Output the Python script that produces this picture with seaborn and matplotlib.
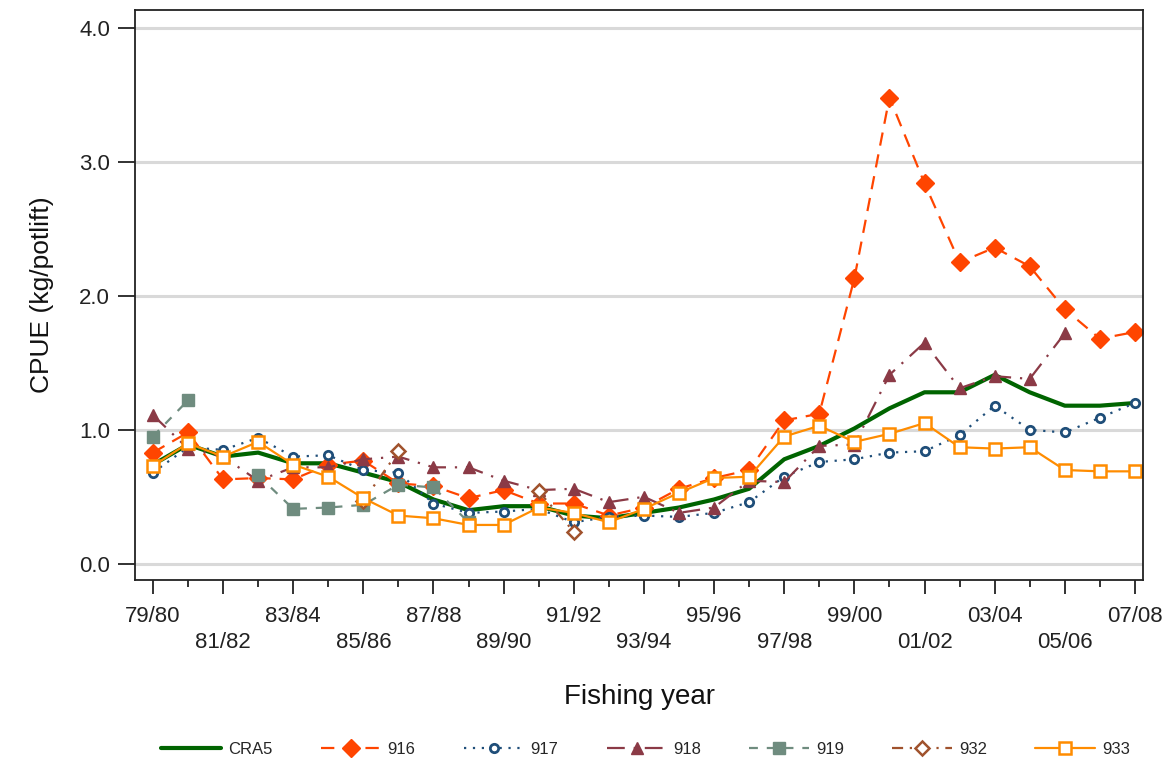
import numpy as np
import pandas as pd
import matplotlib
matplotlib.use("Agg")
import matplotlib.pyplot as plt
import seaborn as sns

nan = np.nan

years = ["79/80", "80/81", "81/82", "82/83", "83/84", "84/85", "85/86", "86/87",
         "87/88", "88/89", "89/90", "90/91", "91/92", "92/93", "93/94", "94/95",
         "95/96", "96/97", "97/98", "98/99", "99/00", "00/01", "01/02", "02/03",
         "03/04", "04/05", "05/06", "06/07", "07/08"]

cra5 = [0.74, 0.89, 0.80, 0.83, 0.75, 0.75, 0.68, 0.61, 0.48, 0.40, 0.43, 0.43,
        0.36, 0.34, 0.38, 0.42, 0.48, 0.56, 0.78, 0.88, 1.01, 1.16, 1.28, 1.28,
        1.41, 1.28, 1.18, 1.18, 1.20]
s916 = [0.83, 0.98, 0.63, 0.64, 0.63, 0.74, 0.77, 0.60, 0.58, 0.49, 0.55, 0.45,
        0.45, 0.36, 0.42, 0.56, 0.64, 0.70, 1.07, 1.12, 2.13, 3.48, 2.84, 2.25,
        2.36, 2.22, 1.90, 1.68, 1.73]
s917 = [0.68, 0.87, 0.85, 0.94, 0.80, 0.81, 0.70, 0.68, 0.45, 0.38, 0.39, 0.41,
        0.31, 0.35, 0.36, 0.35, 0.38, 0.46, 0.65, 0.76, 0.78, 0.83, 0.84, 0.96,
        1.18, 1.00, 0.98, 1.09, 1.20]
s918 = [1.11, 0.86, 0.80, 0.62, 0.72, 0.72, 0.78, 0.80, 0.72, 0.72, 0.62, 0.55,
        0.56, 0.46, 0.50, 0.38, 0.42, 0.62, 0.61, 0.88, 0.89, 1.41, 1.65, 1.31,
        1.40, 1.38, 1.72, nan, nan]
s919 = [0.95, 1.22, nan, 0.66, 0.41, 0.42, 0.44, 0.59, 0.57, 0.31, nan, nan,
        nan, nan, nan, nan, nan, nan, nan, nan, nan, nan, nan, nan,
        nan, nan, nan, nan, nan]
s932 = [nan, nan, nan, nan, nan, nan, 0.47, 0.84, nan, nan, nan, 0.54,
        0.24, nan, nan, nan, nan, nan, nan, nan, nan, nan, nan, nan,
        nan, nan, nan, nan, nan]
s933 = [0.73, 0.90, 0.80, 0.91, 0.74, 0.65, 0.49, 0.36, 0.34, 0.29, 0.29, 0.42,
        0.38, 0.31, 0.41, 0.53, 0.64, 0.65, 0.95, 1.03, 0.91, 0.97, 1.05, 0.87,
        0.86, 0.87, 0.70, 0.69, 0.69]

series_names = ["CRA5", "916", "917", "918", "919", "932", "933"]
series_vals = [cra5, s916, s917, s918, s919, s932, s933]

styles = {
    "CRA5": dict(color="#006400", ls="-", lw=3.0, marker="", ms=0, mfc="#006400", mew=0),
    "916": dict(color="#FF4500", ls=(0, (6, 4)), lw=1.6, marker="D", ms=9, mfc="#FF4500", mew=1),
    "917": dict(color="#1F4E79", ls=(0, (1, 3)), lw=1.6, marker="o", ms=6, mfc="white", mew=2),
    "918": dict(color="#8B3A46", ls=(0, (8, 4, 1, 4)), lw=1.6, marker="^", ms=9, mfc="#8B3A46", mew=1),
    "919": dict(color="#6F8C7F", ls=(0, (4, 4)), lw=1.6, marker="s", ms=8, mfc="#6F8C7F", mew=1),
    "932": dict(color="#A0522D", ls=(0, (5, 3, 1, 3)), lw=1.6, marker="D", ms=7, mfc="white", mew=1.8),
    "933": dict(color="#FF8C00", ls="-", lw=1.6, marker="s", ms=8, mfc="white", mew=1.8),
}

sns.set_theme(style="white")
plt.rcParams["font.family"] = ["Liberation Sans", "DejaVu Sans"]

fig = plt.figure(figsize=(11.74, 7.6), dpi=100)
ax = fig.add_axes([0.115, 0.237, 0.8586, 0.750])

x_idx = np.arange(len(years))
for name, vals in zip(series_names, series_vals):
    st = styles[name]
    v = np.array(vals, dtype=float)
    valid = ~np.isnan(v)
    # split into contiguous segments so gaps stay gaps
    seg_id = np.cumsum(np.r_[True, np.diff(valid.astype(int)) != 0])
    first = True
    for sid in np.unique(seg_id[valid]):
        m = (seg_id == sid) & valid
        df = pd.DataFrame({"x": x_idx[m], "y": v[m]})
        sns.lineplot(data=df, x="x", y="y", ax=ax, color=st["color"],
                     linestyle=st["ls"], linewidth=st["lw"],
                     marker=st["marker"] if st["marker"] else None,
                     markersize=st["ms"], markerfacecolor=st["mfc"],
                     markeredgecolor=st["color"], markeredgewidth=st["mew"],
                     label=name if first else "_nolegend_", legend=False,
                     estimator=None, sort=False)
        first = False

ax.set_xlim(-0.51, 28.23)
ax.set_ylim(-0.12, 4.134)

ax.set_yticks([0, 1, 2, 3, 4])
ax.set_yticklabels(["0.0", "1.0", "2.0", "3.0", "4.0"])
ax.yaxis.grid(True, color="#D9D9D9", linewidth=2.2)
ax.xaxis.grid(False)
ax.set_axisbelow(True)

major = x_idx[::2]
labels = []
for k, i in enumerate(major):
    labels.append(years[i] if k % 2 == 0 else "\n" + years[i])
ax.set_xticks(major)
ax.set_xticklabels(labels, linespacing=1.3)
ax.set_xticks(x_idx[1::2], minor=True)

ax.tick_params(axis="x", which="major", direction="out", length=10, width=1.3,
               color="#222222", bottom=True, labelsize=16, pad=9, labelcolor="#222222")
ax.tick_params(axis="x", which="minor", direction="out", length=5, width=1.3,
               color="#222222", bottom=True)
ax.tick_params(axis="y", direction="out", length=12, width=1.3, color="#222222",
               left=True, labelsize=16, pad=6, labelcolor="#222222")

for sp in ax.spines.values():
    sp.set_visible(True)
    sp.set_color("#222222")
    sp.set_linewidth(1.3)

ax.set_xlabel("Fishing year", fontsize=20, labelpad=22, color="#111111")
ax.set_ylabel("CPUE (kg/potlift)", fontsize=19, labelpad=18, color="#111111")

handles, labs = ax.get_legend_handles_labels()
fig.legend(handles, labs, loc="lower center", bbox_to_anchor=(0.55, -0.016),
           ncol=7, frameon=False, fontsize=12, handlelength=3.6,
           columnspacing=2.9, handletextpad=0.4)

fig.savefig("out.png", dpi=100)
